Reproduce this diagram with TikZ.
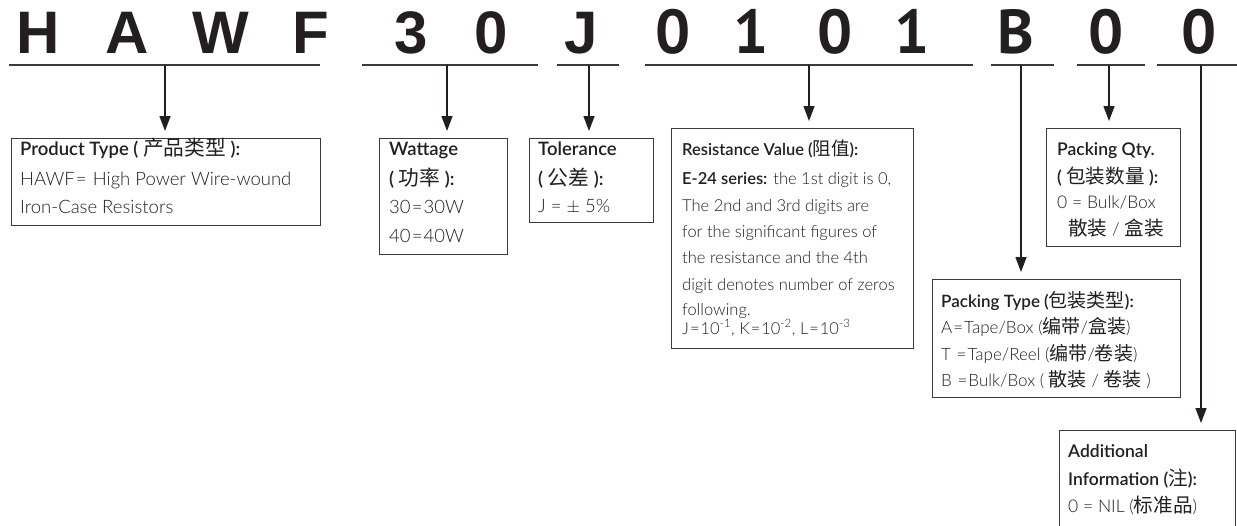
\documentclass[tikz,border=0pt]{standalone}
\usepackage{fontspec}
\setmainfont{Lato Light}[BoldFont={Lato Semibold}]
\newfontfamily\cjk{Noto Sans CJK SC}[Scale=1.12, BoldFont={Noto Sans CJK SC}]
\newcommand\zh[1]{{\cjk #1}}
\newfontfamily\bigAf{Liberation Sans}
\newfontfamily\bigBf{PT Sans}
\newcommand\eqs{\kern0.06em=\kern0.06em}
\usetikzlibrary{arrows.meta}
\definecolor{ink}{HTML}{231F20}
\definecolor{rulec}{HTML}{3A3A3A}
\tikzset{
  bigA/.style={font=\bigAf\bfseries\fontsize{60}{60}\selectfont, anchor=base, inner sep=0, text=ink},
  bigB/.style={font=\bigBf\bfseries\fontsize{62}{62}\selectfont, anchor=base, inner sep=0, text=ink},
  uline/.style={line width=2pt, draw=rulec},
  arr/.style={line width=1.4pt, draw=ink, -{Triangle[length=15pt,width=11pt]}, shorten >=7pt},
  box/.style={draw=rulec, line width=1.4pt, rectangle, inner sep=0, anchor=north west},
  ln/.style={anchor=base west, inner sep=0, text=ink},
  fa/.style={ln, font=\fontsize{18.5}{22}\selectfont},
  fb/.style={ln, font=\fontsize{16.5}{20}\selectfont},
  fd/.style={ln, font=\fontsize{17}{20}\selectfont},
  fc/.style={ln, font=\fontsize{17.5}{21}\selectfont},
}
\begin{document}
\begin{tikzpicture}[x=1pt,y=-1pt]
\useasboundingbox[fill=white] (0,0) rectangle (1237,525);
% big code letters
\node[bigA] (L1) at (38,53) {H};
\node[bigA] (L2) at (127,53) {A};
\node[bigA] (L3) at (221,53) {W};
\node[bigA] (L4) at (311,53) {F};
\node[bigA] (L5) at (411,53) {3};
\node[bigA] (L6) at (491,53) {0};
\node[bigA] (L7) at (581,53) {J};
\node[bigB] (L8) at (673,53) {0};
\node[bigB] (L9) at (751,53) {1};
\node[bigB] (L10) at (835,53) {0};
\node[bigB] (L11) at (912,53) {1};
\node[bigB] (L12) at (1016,53) {B};
\node[bigB] (L13) at (1106,53) {0};
\node[bigB] (L14) at (1199,53) {0};
% underlines
\draw[uline] (9,65) -- (320,65);
\draw[uline] (362,65) -- (538,65);
\draw[uline] (557,65) -- (619,65);
\draw[uline] (645,65) -- (973,65);
\draw[uline] (991,65) -- (1054,65);
\draw[uline] (1077,65) -- (1145,65);
\draw[uline] (1157,65) -- (1240,65);
\coordinate (t1) at (165,65);
\coordinate (t2) at (447,65);
\coordinate (t3) at (589,65);
\coordinate (t4) at (809,65);
\coordinate (t5) at (1021,65);
\coordinate (t6) at (1109,65);
\coordinate (t7) at (1201,65);
% boxes
\node[box, minimum width=309pt, minimum height=87pt] (prod) at (11,138) {};
\node[box, minimum width=128pt, minimum height=116pt] (watt) at (379,138) {};
\node[box, minimum width=124pt, minimum height=84pt] (tol) at (529,138) {};
\node[box, minimum width=242pt, minimum height=220pt] (res) at (671,128) {};
\node[box, minimum width=134pt, minimum height=118pt] (qty) at (1046,128) {};
\node[box, minimum width=248pt, minimum height=118pt] (ptype) at (932,279) {};
\node[box, minimum width=176pt, minimum height=110pt] (add) at (1059,430) {};
% arrows
\draw[arr] (t1) -- (t1 |- prod.north);
\draw[arr] (t2) -- (t2 |- watt.north);
\draw[arr] (t3) -- (t3 |- tol.north);
\draw[arr] (t4) -- (t4 |- res.north);
\draw[arr] (t5) -- (t5 |- ptype.north);
\draw[arr] (t6) -- (t6 |- qty.north);
\draw[arr] (t7) -- (t7 |- add.north);
% product type
\node[fa] (p1) at (20,155) {\bfseries Product Type ( \zh{产品类型} ):};
\node[fa] (p2) at (20,185) {HAWF\eqs{} High Power Wire-wound};
\node[fa] (p3) at (20,213) {Iron-Case Resistors};
% wattage
\node[fa] (w1) at (389,155) {\bfseries Wattage};
\node[fa] (w2) at (389,185) {\bfseries ( \zh{功率} ):};
\node[fa] (w3) at (389,213) {30\eqs30W};
\node[fa] (w4) at (389,242) {40\eqs40W};
% tolerance
\node[fa] (o1) at (538,155) {\bfseries Tolerance};
\node[fa] (o2) at (538,185) {\bfseries ( \zh{公差} ):};
\node[fa] (o3) at (538,212) {J = $\pm$ 5\%};
% resistance
\node[fb] (r1) at (682,155) {\bfseries Resistance Value (\zh{阻值}):};
\node[fb] (r2) at (682,184) {\textbf{E-24 series:} the 1st digit is 0,};
\node[fb] (r3) at (682,211) {The 2nd and 3rd digits are};
\node[fb] (r4) at (682,237) {for the significant figures of};
\node[fb] (r5) at (682,263) {the resistance and the 4th};
\node[fb] (r6) at (682,290) {digit denotes number of zeros};
\node[fb] (r7) at (682,315) {following.};
\node[fb] (r8) at (682,334) {J\eqs10\textsuperscript{-1}, K\eqs10\textsuperscript{-2}, L\eqs10\textsuperscript{-3}};
% packing qty
\node[fc] (q1) at (1057,155) {\bfseries Packing Qty.};
\node[fc] (q2) at (1057,183) {\bfseries ( \zh{包装数量} ):};
\node[fc] (q3) at (1057,208) {0 = Bulk/Box};
\node[fc] (q4) at (1068,235) {\zh{散装} / \zh{盒装}};
% packing type
\node[fd] (y1) at (941,307) {\bfseries Packing Type (\zh{包装类型}):};
\node[fd] (y2) at (941,333) {A\eqs Tape/Box (\zh{编带}/\zh{盒装})};
\node[fd] (y3) at (941,360) {T \eqs Tape/Reel (\zh{编带}/\zh{卷装})};
\node[fd] (y4) at (941,386) {B \eqs Bulk/Box ( \zh{散装} / \zh{卷装} )};
% additional
\node[fc] (a1) at (1068,457) {\bfseries Additional};
\node[fc] (a2) at (1068,485) {\bfseries Information (\zh{注}):};
\node[fc] (a3) at (1068,512) {0 = NIL (\zh{标准品})};
\end{tikzpicture}
\end{document}
